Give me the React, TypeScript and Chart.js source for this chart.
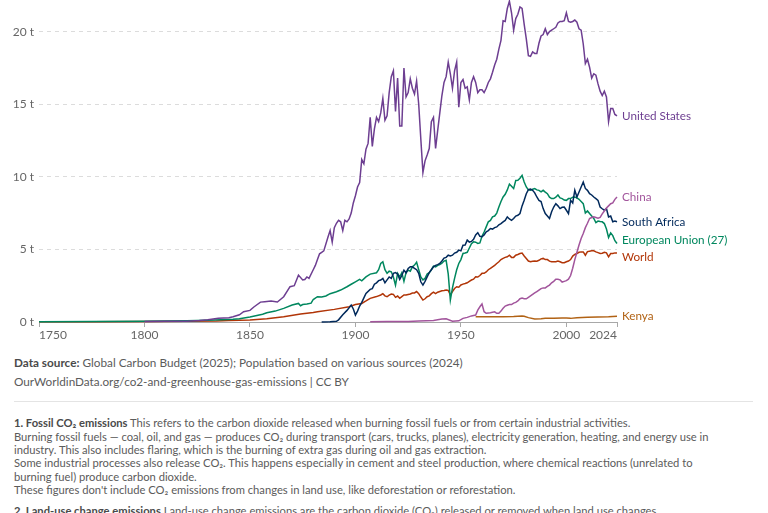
import React, { useEffect, useRef } from 'react';
import { Chart, registerables } from 'chart.js';

Chart.register(...registerables);

// ---- Data (tonnes of fossil CO2 per person) ----
const xTickYears = [1750, 1800, 1850, 1900, 1950, 2000, 2024];
const yTickValues = [0, 5, 10, 15, 20];

const seriesNames = ['United States', 'China', 'South Africa', 'European Union (27)', 'World', 'Kenya'];
const seriesColors = ['#6D3E91', '#A2559C', '#00295B', '#00875E', '#B13507', '#B16214'];

const unitedStates: [number, number][] = [
  [1800, 0.04], [1810, 0.05], [1820, 0.06], [1826, 0.1], [1830, 0.15], [1835, 0.25], [1840, 0.3], [1842, 0.36],
  [1845, 0.5], [1847, 0.71], [1850, 0.8], [1852, 1.05], [1855, 1.37], [1857, 1.4], [1860, 1.44], [1863, 1.38],
  [1866, 1.74], [1869, 2.43], [1871, 2.5], [1873, 3.23], [1875, 2.9], [1876, 2.93], [1877, 3.1], [1878, 3.0],
  [1880, 3.6], [1881, 3.9], [1882, 4.3], [1883, 4.7], [1884, 4.8], [1885, 4.9], [1887, 5.86], [1888, 6.3],
  [1889, 5.5], [1890, 6.5], [1891, 6.8], [1892, 7.0], [1893, 6.9], [1894, 6.3], [1895, 7.0], [1896, 6.9],
  [1897, 7.1], [1898, 7.5], [1899, 8.2], [1900, 8.7], [1901, 9.3], [1902, 9.6], [1903, 11.2], [1904, 10.9],
  [1905, 11.9], [1906, 12.3], [1907, 14.1], [1908, 12.1], [1909, 13.3], [1910, 14.1], [1911, 13.8], [1912, 14.4],
  [1913, 15.4], [1914, 13.9], [1915, 14.2], [1916, 15.8], [1917, 16.9], [1918, 17.3], [1919, 14.5], [1920, 16.8],
  [1921, 13.5], [1922, 13.5], [1923, 17.5], [1924, 15.5], [1925, 15.8], [1926, 16.75], [1927, 16.1], [1928, 15.7],
  [1929, 16.6], [1930, 15.0], [1931, 12.6], [1932, 10.3], [1933, 11.1], [1934, 11.5], [1935, 11.95], [1936, 13.8],
  [1937, 14.1], [1938, 11.95], [1939, 13.2], [1940, 14.4], [1941, 15.6], [1942, 16.5], [1943, 16.9], [1944, 17.9],
  [1945, 17.1], [1946, 16.1], [1947, 17.3], [1948, 17.9], [1949, 14.8], [1950, 16.5], [1951, 16.7], [1952, 16.1],
  [1953, 16.2], [1954, 15.3], [1955, 16.5], [1956, 16.9], [1957, 16.5], [1958, 15.8], [1959, 16.0], [1960, 16.0],
  [1961, 15.8], [1962, 16.1], [1963, 16.5], [1964, 16.75], [1965, 17.2], [1966, 17.7], [1967, 18.1], [1968, 18.8],
  [1969, 19.4], [1970, 20.75], [1971, 20.7], [1972, 21.6], [1973, 22.1], [1974, 21.3], [1975, 20.1], [1976, 20.9],
  [1977, 21.2], [1978, 21.7], [1979, 21.6], [1980, 20.5], [1981, 19.5], [1982, 18.35], [1983, 18.3], [1984, 18.6],
  [1985, 18.5], [1986, 18.5], [1987, 19.2], [1988, 19.7], [1989, 19.8], [1990, 20.2], [1991, 19.8], [1992, 20.0],
  [1993, 20.1], [1994, 20.2], [1995, 20.3], [1996, 20.6], [1997, 20.7], [1998, 20.7], [1999, 20.75], [2000, 21.3],
  [2001, 20.7], [2002, 20.65], [2003, 20.7], [2004, 20.8], [2005, 20.65], [2006, 20.2], [2007, 20.1], [2008, 19.15],
  [2009, 17.8], [2010, 18.1], [2011, 17.55], [2012, 16.8], [2013, 17.1], [2014, 17.0], [2015, 16.4], [2016, 15.9],
  [2017, 15.6], [2018, 15.9], [2019, 15.5], [2020, 13.8], [2021, 14.7], [2022, 14.7], [2023, 14.3], [2024, 14.2],
];

const china: [number, number][] = [
  [1907, 0.02], [1915, 0.03], [1925, 0.04], [1930, 0.07], [1937, 0.1], [1941, 0.2], [1943, 0.22], [1946, 0.05],
  [1949, 0.08], [1951, 0.25], [1953, 0.32], [1955, 0.42], [1957, 0.48], [1958, 0.82], [1959, 1.05], [1960, 1.24],
  [1961, 0.71], [1962, 0.6], [1963, 0.62], [1964, 0.64], [1965, 0.67], [1966, 0.7], [1967, 0.6], [1968, 0.6],
  [1969, 0.75], [1970, 0.94], [1971, 1.1], [1972, 1.15], [1973, 1.2], [1974, 1.2], [1975, 1.3], [1976, 1.35],
  [1977, 1.45], [1978, 1.6], [1979, 1.65], [1980, 1.6], [1981, 1.6], [1982, 1.7], [1983, 1.8], [1984, 1.9],
  [1985, 2.0], [1986, 2.1], [1987, 2.2], [1988, 2.3], [1989, 2.35], [1990, 2.35], [1991, 2.45], [1992, 2.54],
  [1993, 2.7], [1994, 2.8], [1995, 2.95], [1996, 2.95], [1997, 2.9], [1998, 2.75], [1999, 2.8], [2000, 2.85],
  [2001, 2.95], [2002, 3.2], [2003, 3.7], [2004, 4.3], [2005, 4.8], [2006, 5.3], [2007, 5.75], [2008, 6.1],
  [2009, 6.5], [2010, 6.8], [2011, 7.13], [2012, 7.2], [2013, 7.25], [2014, 7.2], [2015, 7.15], [2016, 7.2],
  [2017, 7.45], [2018, 7.65], [2019, 7.85], [2020, 8.0], [2021, 8.15], [2022, 8.2], [2023, 8.45], [2024, 8.61],
];

const southAfrica: [number, number][] = [
  [1884, 0.0], [1888, 0.02], [1891, 0.05], [1892, 0.15], [1894, 0.5], [1896, 0.8], [1898, 1.17], [1899, 0.9],
  [1900, 0.48], [1901, 0.75], [1902, 1.1], [1903, 1.35], [1905, 1.97], [1907, 2.25], [1908, 2.3], [1909, 2.6],
  [1910, 2.7], [1911, 2.85], [1912, 2.89], [1913, 3.0], [1914, 2.7], [1915, 2.9], [1916, 3.1], [1917, 3.0],
  [1918, 3.35], [1919, 3.4], [1920, 3.3], [1921, 2.93], [1922, 3.2], [1923, 3.57], [1924, 3.39], [1925, 3.69],
  [1926, 3.8], [1927, 3.8], [1928, 3.7], [1929, 3.6], [1930, 3.35], [1931, 2.77], [1932, 2.54], [1933, 2.8],
  [1934, 3.11], [1935, 3.4], [1936, 3.6], [1937, 3.8], [1938, 3.9], [1939, 3.95], [1940, 4.03], [1941, 4.2],
  [1942, 4.4], [1943, 4.45], [1944, 4.6], [1945, 4.55], [1946, 4.6], [1947, 4.75], [1948, 4.8], [1949, 4.95],
  [1950, 4.9], [1951, 5.29], [1952, 5.3], [1953, 5.64], [1954, 5.5], [1955, 5.55], [1956, 5.7], [1957, 6.0],
  [1958, 6.15], [1959, 5.9], [1960, 5.87], [1961, 6.0], [1962, 6.21], [1963, 6.3], [1964, 6.44], [1965, 6.4],
  [1966, 6.5], [1967, 6.55], [1968, 6.7], [1969, 6.78], [1970, 6.9], [1971, 7.0], [1972, 7.24], [1973, 7.1],
  [1974, 7.0], [1975, 7.13], [1976, 7.3], [1977, 7.35], [1978, 7.47], [1979, 8.0], [1980, 8.38], [1981, 8.84],
  [1982, 9.12], [1983, 9.15], [1984, 9.07], [1985, 8.9], [1986, 8.61], [1987, 8.38], [1988, 8.3], [1989, 7.81],
  [1990, 7.47], [1991, 7.3], [1992, 7.13], [1993, 7.6], [1994, 7.92], [1995, 8.15], [1996, 8.0], [1997, 7.81],
  [1998, 7.9], [1999, 7.92], [2000, 7.7], [2001, 7.47], [2002, 8.38], [2003, 8.2], [2004, 9.07], [2005, 8.61],
  [2006, 8.96], [2007, 9.3], [2008, 9.64], [2009, 9.2], [2010, 9.07], [2011, 8.84], [2012, 8.75], [2013, 8.61],
  [2014, 8.5], [2015, 8.38], [2016, 7.92], [2017, 7.8], [2018, 7.7], [2019, 7.81], [2020, 7.24], [2021, 7.3],
  [2022, 6.9], [2023, 6.95], [2024, 6.9],
];

const europeanUnion: [number, number][] = [
  [1750, 0.02], [1775, 0.03], [1800, 0.06], [1820, 0.09], [1830, 0.12], [1842, 0.19], [1845, 0.23], [1850, 0.34],
  [1856, 0.53], [1858, 0.64], [1862, 0.75], [1866, 0.94], [1870, 1.17], [1873, 1.28], [1874, 1.12], [1875, 1.2],
  [1877, 1.24], [1879, 1.3], [1880, 1.55], [1882, 1.74], [1884, 1.72], [1886, 1.79], [1888, 1.95], [1891, 2.08],
  [1893, 2.2], [1896, 2.43], [1898, 2.6], [1900, 2.77], [1902, 2.93], [1903, 2.84], [1905, 3.11], [1907, 3.3],
  [1910, 3.39], [1911, 3.6], [1912, 4.03], [1913, 4.15], [1914, 3.6], [1915, 3.35], [1916, 3.5], [1917, 3.46],
  [1918, 3.1], [1919, 2.54], [1920, 3.35], [1921, 3.1], [1922, 3.4], [1923, 2.8], [1924, 3.4], [1925, 3.57],
  [1926, 3.5], [1927, 3.8], [1928, 3.92], [1929, 4.12], [1930, 3.6], [1931, 3.1], [1932, 2.9], [1933, 3.0],
  [1934, 3.3], [1935, 3.4], [1936, 3.6], [1937, 3.85], [1938, 3.8], [1939, 3.9], [1940, 3.95], [1941, 4.05],
  [1942, 4.2], [1943, 4.25], [1944, 3.3], [1945, 1.51], [1946, 2.35], [1947, 3.0], [1948, 3.6], [1949, 4.03],
  [1950, 4.3], [1951, 4.72], [1952, 4.75], [1953, 4.8], [1954, 5.1], [1955, 5.4], [1956, 5.52], [1957, 5.5],
  [1958, 5.41], [1959, 5.45], [1960, 5.9], [1961, 6.2], [1962, 6.55], [1963, 6.9], [1964, 7.0], [1965, 7.24],
  [1966, 7.3], [1967, 7.5], [1968, 7.92], [1969, 8.3], [1970, 8.61], [1971, 8.8], [1972, 9.1], [1973, 9.5],
  [1974, 9.35], [1975, 9.19], [1976, 9.75], [1977, 9.76], [1978, 9.9], [1979, 10.1], [1980, 9.64], [1981, 9.3],
  [1982, 9.1], [1983, 9.07], [1984, 9.15], [1985, 9.19], [1986, 9.1], [1987, 9.07], [1988, 8.96], [1989, 9.07],
  [1990, 8.95], [1991, 8.84], [1992, 8.6], [1993, 8.5], [1994, 8.5], [1995, 8.6], [1996, 8.75], [1997, 8.55],
  [1998, 8.5], [1999, 8.4], [2000, 8.38], [2001, 8.5], [2002, 8.5], [2003, 8.6], [2004, 8.61], [2005, 8.55],
  [2006, 8.45], [2007, 8.3], [2008, 8.15], [2009, 7.51], [2010, 7.65], [2011, 7.47], [2012, 7.3], [2013, 7.13],
  [2014, 6.85], [2015, 6.95], [2016, 6.92], [2017, 6.9], [2018, 6.78], [2019, 6.4], [2020, 5.82], [2021, 6.14],
  [2022, 5.95], [2023, 5.6], [2024, 5.41],
];

const world: [number, number][] = [
  [1750, 0.01], [1775, 0.02], [1800, 0.03], [1820, 0.05], [1834, 0.07], [1840, 0.1], [1850, 0.14], [1858, 0.23],
  [1866, 0.36], [1874, 0.55], [1880, 0.65], [1882, 0.71], [1890, 0.87], [1897, 1.05], [1900, 1.2], [1903, 1.28],
  [1905, 1.45], [1907, 1.63], [1910, 1.75], [1912, 1.86], [1913, 1.95], [1914, 1.8], [1915, 1.74], [1916, 1.85],
  [1917, 1.93], [1918, 1.9], [1919, 1.7], [1920, 1.79], [1921, 1.63], [1922, 1.75], [1923, 1.86], [1924, 1.86],
  [1925, 1.9], [1926, 1.93], [1927, 2.0], [1928, 2.0], [1929, 2.1], [1930, 1.95], [1931, 1.72], [1932, 1.51],
  [1933, 1.6], [1934, 1.74], [1935, 1.8], [1936, 1.95], [1937, 2.05], [1938, 1.95], [1939, 2.05], [1940, 2.1],
  [1941, 2.15], [1942, 2.17], [1943, 2.2], [1944, 2.17], [1945, 1.86], [1946, 2.1], [1947, 2.31], [1948, 2.43],
  [1949, 2.4], [1950, 2.55], [1951, 2.61], [1952, 2.65], [1953, 2.7], [1954, 2.8], [1955, 2.89], [1956, 2.95],
  [1957, 3.11], [1958, 3.1], [1959, 3.2], [1960, 3.35], [1961, 3.35], [1962, 3.45], [1963, 3.6], [1964, 3.69],
  [1965, 3.8], [1966, 3.9], [1967, 4.03], [1968, 4.15], [1969, 4.3], [1970, 4.38], [1971, 4.45], [1972, 4.49],
  [1973, 4.6], [1974, 4.45], [1975, 4.45], [1976, 4.6], [1977, 4.65], [1978, 4.72], [1979, 4.75], [1980, 4.55],
  [1981, 4.38], [1982, 4.2], [1983, 4.15], [1984, 4.19], [1985, 4.2], [1986, 4.19], [1987, 4.25], [1988, 4.35],
  [1989, 4.38], [1990, 4.3], [1991, 4.3], [1992, 4.19], [1993, 4.15], [1994, 4.15], [1995, 4.15], [1996, 4.2],
  [1997, 4.15], [1998, 4.08], [1999, 4.08], [2000, 4.15], [2001, 4.2], [2002, 4.3], [2003, 4.54], [2004, 4.65],
  [2005, 4.72], [2006, 4.8], [2007, 4.83], [2008, 4.83], [2009, 4.6], [2010, 4.85], [2011, 4.88], [2012, 4.9],
  [2013, 4.9], [2014, 4.83], [2015, 4.78], [2016, 4.72], [2017, 4.74], [2018, 4.8], [2019, 4.76], [2020, 4.49],
  [2021, 4.72], [2022, 4.72], [2023, 4.76], [2024, 4.75],
];

const kenya: [number, number][] = [
  [1957, 0.37], [1960, 0.36], [1965, 0.37], [1970, 0.37], [1975, 0.38], [1979, 0.41], [1980, 0.4], [1982, 0.3],
  [1985, 0.2], [1988, 0.22], [1990, 0.25], [1994, 0.25], [1998, 0.28], [2000, 0.27], [2002, 0.25], [2005, 0.3],
  [2010, 0.32], [2015, 0.35], [2020, 0.37], [2024, 0.4],
];

const seriesData = [unitedStates, china, southAfrica, europeanUnion, world, kenya];

const FONT = 'Lato, "Noto Sans", sans-serif';

const endLabelsPlugin = {
  id: 'endLabels',
  afterDatasetsDraw(chart: any) {
    const { ctx, chartArea } = chart;
    const items = chart.data.datasets.map((ds: any, i: number) => {
      const meta = chart.getDatasetMeta(i);
      const last = meta.data[meta.data.length - 1];
      return { text: ds.label, color: ds.borderColor, y: last.y };
    });
    const sorted = [...items].sort((a: any, b: any) => a.y - b.y);
    const gap = 17;
    for (let iter = 0; iter < 100; iter++) {
      let moved = false;
      for (let i = 1; i < sorted.length; i++) {
        const d = sorted[i].y - sorted[i - 1].y;
        if (d < gap - 0.01) {
          const s = (gap - d) / 2;
          sorted[i - 1].y -= s;
          sorted[i].y += s;
          moved = true;
        }
      }
      if (!moved) break;
    }
    ctx.save();
    ctx.font = `11.7px ${FONT}`;
    ctx.textBaseline = 'middle';
    ctx.textAlign = 'left';
    items.forEach((it: any) => {
      ctx.fillStyle = it.color;
      ctx.fillText(it.text, chartArea.right + 5, it.y + 0.5);
    });
    ctx.restore();
  },
};

function ChartCanvas() {
  const ref = useRef<HTMLCanvasElement | null>(null);
  useEffect(() => {
    if (!ref.current) return;
    Chart.defaults.font.family = FONT;
    const chart = new Chart(ref.current, {
      type: 'line',
      data: {
        datasets: seriesNames.map((name, i) => ({
          label: name,
          data: seriesData[i].map(([x, y]) => ({ x, y })),
          borderColor: seriesColors[i],
          backgroundColor: seriesColors[i],
          borderWidth: 1.5,
          pointRadius: 0,
          tension: 0,
          fill: false,
          clip: false as any,
        })),
      },
      options: {
        animation: false,
        responsive: false,
        events: [],
        layout: { padding: { top: 0, right: 151, left: 0, bottom: 0 } },
        plugins: { legend: { display: false }, tooltip: { enabled: false } },
        scales: {
          x: {
            type: 'linear',
            min: 1750,
            max: 2024,
            afterBuildTicks: (s: any) => {
              s.ticks = xTickYears.map((v) => ({ value: v }));
            },
            afterFit: (s: any) => {
              s.height = 23;
              s.paddingLeft = 0;
              s.paddingRight = 0;
            },
            ticks: {
              callback: (v: any) => String(v),
              align: 'inner',
              color: '#666666',
              font: { family: FONT, size: 12 },
              padding: 1,
              maxRotation: 0,
              autoSkip: false,
            },
            grid: { drawOnChartArea: false, drawTicks: true, tickLength: 5, color: '#a8a8a8' },
            border: { display: true, color: '#a8a8a8', width: 1 },
          },
          y: {
            type: 'linear',
            min: 0,
            max: 22.18,
            afterBuildTicks: (s: any) => {
              s.ticks = yTickValues.map((v) => ({ value: v }));
            },
            afterFit: (s: any) => {
              s.width = 39;
              s.paddingTop = 0;
              s.paddingBottom = 0;
            },
            ticks: {
              callback: (v: any) => `${v} t`,
              color: '#666666',
              font: { family: FONT, size: 12 },
              padding: 5,
            },
            grid: {
              drawTicks: false,
              color: (c: any) => (c.tick && c.tick.value === 0 ? 'rgba(0,0,0,0)' : '#dcdcdc'),
            },
            border: { display: false, dash: [4, 4] },
          },
        } as any,
      },
      plugins: [endLabelsPlugin],
    });
    return () => chart.destroy();
  }, []);
  return (
    <canvas
      ref={ref}
      width={768}
      height={345}
      style={{ position: 'absolute', left: 0, top: 0, width: 768, height: 345 }}
    />
  );
}

export default function App() {
  const noteLine: React.CSSProperties = { whiteSpace: 'nowrap', height: 13.4, lineHeight: '13.4px' };
  return (
    <div
      style={{
        position: 'absolute',
        left: 0,
        top: 0,
        width: 768,
        height: 513,
        overflow: 'hidden',
        background: '#ffffff',
        fontFamily: FONT,
      }}
    >
      <ChartCanvas />
      <div style={{ position: 'absolute', left: 14, top: 352.5, fontSize: 11.75, lineHeight: '19px', color: '#5b5b5b' }}>
        <div style={{ whiteSpace: 'nowrap' }}>
          <b style={{ color: '#4a4a4a' }}>Data source:</b> Global Carbon Budget (2025); Population based on various sources (2024)
        </div>
        <div style={{ whiteSpace: 'nowrap' }}>OurWorldinData.org/co2-and-greenhouse-gas-emissions | CC BY</div>
      </div>
      <div style={{ position: 'absolute', left: 14, top: 401, width: 739, height: 1, background: '#e4e4e4' }} />
      <div style={{ position: 'absolute', left: 14, top: 416.3, fontSize: 11.2, color: '#5b5b5b' }}>
        <div style={noteLine}>
          <b style={{ color: '#4a4a4a' }}>1. Fossil CO₂ emissions</b> This refers to the carbon dioxide released when burning fossil fuels or from certain industrial activities.
        </div>
        <div style={noteLine}>
          Burning fossil fuels — coal, oil, and gas — produces CO₂ during transport (cars, trucks, planes), electricity generation, heating, and energy use in
        </div>
        <div style={noteLine}>
          industry. This also includes flaring, which is the burning of extra gas during oil and gas extraction.
        </div>
        <div style={noteLine}>
          Some industrial processes also release CO₂. This happens especially in cement and steel production, where chemical reactions (unrelated to
        </div>
        <div style={noteLine}>burning fuel) produce carbon dioxide.</div>
        <div style={noteLine}>
          These figures don't include CO₂ emissions from changes in land use, like deforestation or reforestation.
        </div>
        <div style={{ ...noteLine, marginTop: 7 }}>
          <b style={{ color: '#4a4a4a' }}>2. Land-use change emissions</b> Land-use change emissions are the carbon dioxide (CO₂) released or removed when land use changes
        </div>
      </div>
    </div>
  );
}
